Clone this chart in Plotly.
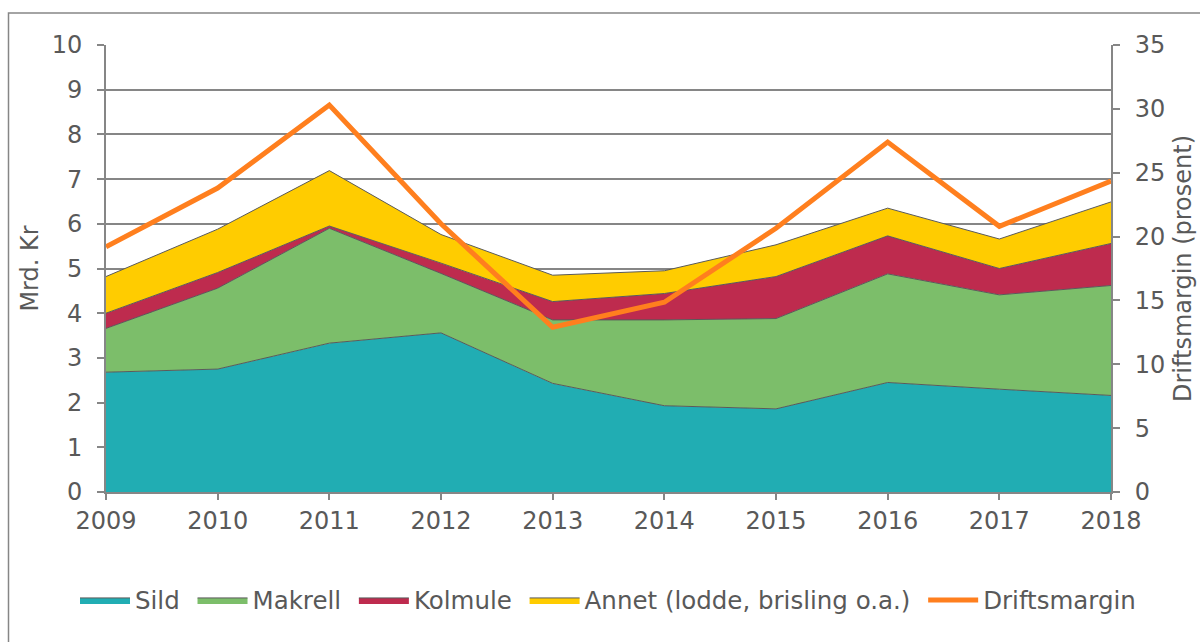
import plotly.graph_objects as go

years = [2009, 2010, 2011, 2012, 2013, 2014, 2015, 2016, 2017, 2018]
sild = [2.68, 2.75, 3.33, 3.56, 2.43, 1.93, 1.86, 2.45, 2.30, 2.16]
makrell = [0.98, 1.81, 2.57, 1.33, 1.42, 1.92, 2.02, 2.43, 2.11, 2.46]
kolmule = [0.34, 0.35, 0.05, 0.23, 0.41, 0.59, 0.94, 0.85, 0.59, 0.94]
annet = [0.82, 0.97, 1.24, 0.64, 0.59, 0.51, 0.71, 0.62, 0.66, 0.93]
driftsmargin = [19.2, 23.8, 30.3, 21.0, 12.9, 14.86, 20.65, 27.4, 20.8, 24.35]

names = ["Sild", "Makrell", "Kolmule", "Annet (lodde, brisling o.a.)"]
colors = ["#21ADB3", "#7CBE6A", "#BE2B4E", "#FFCC00"]
series = [sild, makrell, kolmule, annet]

FONT = "DejaVu Sans, Verdana, sans-serif"
TXT = "#595959"
GRID = "#868686"
PAD = "\u00a0"

fig = go.Figure()
for n, c, s in zip(names, colors, series):
    fig.add_trace(go.Scatter(
        x=years, y=s, name=n + PAD, mode="lines", stackgroup="one",
        fillcolor=c, line=dict(color="#5a5a5a", width=1),
    ))
fig.add_trace(go.Scatter(
    x=years, y=driftsmargin, name="Driftsmargin", mode="lines", yaxis="y2",
    line=dict(color="#FF7F1E", width=5),
))

W, H = 1200, 642
L, R, T, B = 106, 89, 45, 150
pw, ph = W - L - R, H - T - B

def px(x):
    return (x - L) / pw

def py(y):
    return (H - B - y) / ph

fig.update_layout(
    width=W, height=H,
    margin=dict(l=L, r=R, t=T, b=B, autoexpand=False),
    paper_bgcolor="white", plot_bgcolor="white",
    font=dict(family=FONT, color=TXT, size=24),
    showlegend=True,
    legend=dict(orientation="h", x=px(75), xanchor="left", y=py(600), yanchor="middle",
                font=dict(size=24.5, color=TXT), traceorder="normal", itemwidth=50,
                bgcolor="rgba(0,0,0,0)"),
    xaxis=dict(range=[2009, 2018], tickmode="array", tickvals=years, ticktext=[str(y) for y in years],
               showgrid=False, showline=True, linecolor=GRID, linewidth=2,
               ticks="outside", ticklen=6, tickcolor=GRID, tickwidth=1.5,
               tickfont=dict(size=24, color=TXT), zeroline=False),
    yaxis=dict(range=[0, 10], dtick=1, showgrid=True, gridcolor=GRID, gridwidth=1.5,
               showline=True, linecolor=GRID, linewidth=2, ticks="outside", ticklen=7,
               tickcolor=GRID, tickwidth=1.5, zeroline=False, ticklabelstandoff=10,
               title=dict(text="Mrd. Kr", font=dict(size=24, color=TXT), standoff=6),
               tickfont=dict(size=24, color=TXT)),
    yaxis2=dict(range=[0, 35], dtick=5, overlaying="y", side="right", showgrid=False,
                showline=True, linecolor=GRID, linewidth=2, ticks="outside", ticklen=7,
                tickcolor=GRID, tickwidth=1.5, zeroline=False, ticklabelstandoff=10,
                title=dict(text="Driftsmargin (prosent)", font=dict(size=24, color=TXT), standoff=10),
                tickfont=dict(size=24, color=TXT)),
    shapes=[dict(type="rect", xref="paper", yref="paper",
                 x0=px(8.5), x1=px(1215), y0=py(670), y1=py(13),
                 line=dict(color=GRID, width=1.5), fillcolor="rgba(0,0,0,0)", layer="below")],
)

fig.write_html("out.html", config={"displayModeBar": False},
               post_script="document.body.style.margin='0px';document.body.style.overflow='hidden';")
